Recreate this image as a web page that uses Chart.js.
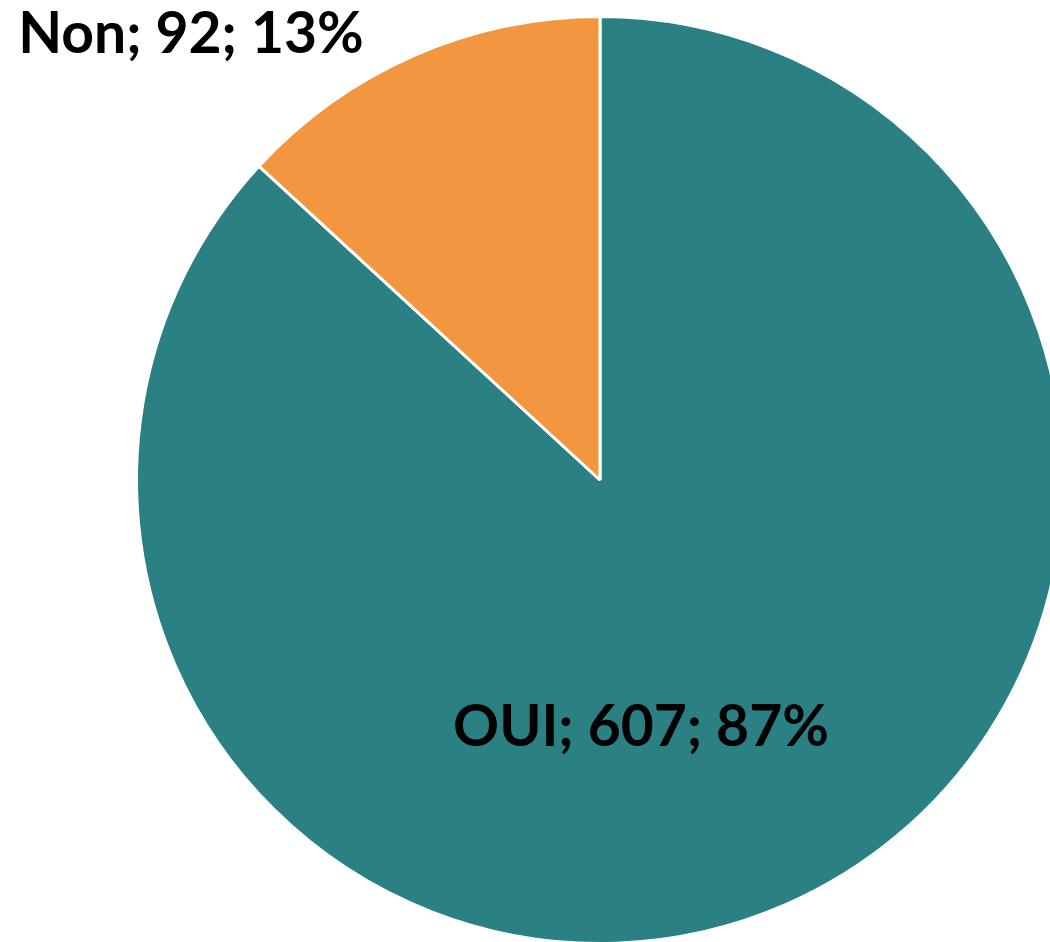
<!DOCTYPE html>
<html>
<head>
<meta charset="utf-8">
<script src="https://cdn.jsdelivr.net/npm/chart.js@4"></script>
<style>
  html, body { margin: 0; padding: 0; background: #fff; overflow: hidden; }
  #wrap { position: absolute; left: 0; top: 0; width: 1200px; height: 960px; }
</style>
</head>
<body>
<div id="wrap"><canvas id="pieChart"></canvas></div>
<script>
// data
const labels = ['OUI', 'Non'];
const values = [607, 92];
const colors = ['#2A8083', '#F29640'];

// where the text labels sit (baseline centre), as in the original
const labelPos = [[641, 746], [191, 53]];

const total = values.reduce((a, b) => a + b, 0);

const labelPlugin = {
    id: 'sliceLabels',
    afterDatasetsDraw(chart) {
        const ctx = chart.ctx;
        ctx.save();
        ctx.font = 'bold 57px Lato';
        ctx.fillStyle = '#000';
        ctx.textAlign = 'center';
        ctx.textBaseline = 'alphabetic';
        values.forEach((v, i) => {
            const pct = Math.round(v / total * 100);
            const text = labels[i] + '; ' + v + '; ' + pct + '%';
            ctx.fillText(text, labelPos[i][0], labelPos[i][1]);
        });
        ctx.restore();
    }
};

new Chart(document.getElementById('pieChart'), {
    type: 'pie',
    data: {
        labels: labels,
        datasets: [{
            data: values,
            backgroundColor: colors,
            borderColor: '#ffffff',
            borderWidth: 3
        }]
    },
    options: {
        responsive: true,
        maintainAspectRatio: false,
        animation: false,
        layout: { padding: 15 },
        plugins: {
            legend: { display: false },
            tooltip: { enabled: false }
        }
    },
    plugins: [labelPlugin]
});
</script>
</body>
</html>
